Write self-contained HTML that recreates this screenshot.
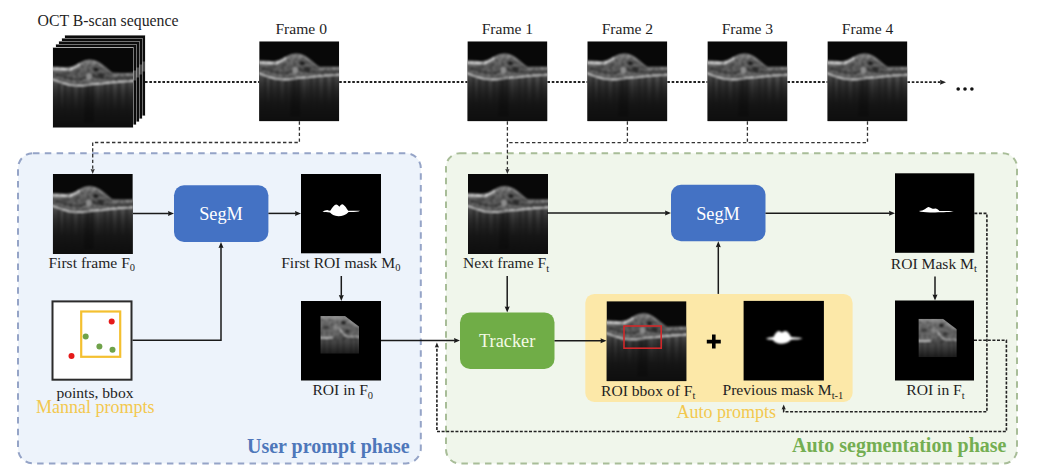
<!DOCTYPE html>
<html><head><meta charset="utf-8">
<style>
html,body{margin:0;padding:0;background:#fff;width:1038px;height:475px;overflow:hidden}
svg{display:block}
text{font-family:"Liberation Serif",serif;fill:#1f1f1f}
</style></head><body>
<svg width="1038" height="475" viewBox="0 0 1038 475">
<defs>
  <linearGradient id="below" x1="0" y1="0" x2="0" y2="1"><stop offset="0.0" stop-color="#585858"/><stop offset="0.1" stop-color="#434343"/><stop offset="0.2" stop-color="#343434"/><stop offset="0.3" stop-color="#292929"/><stop offset="0.4" stop-color="#212121"/><stop offset="0.5" stop-color="#1b1b1b"/><stop offset="0.6" stop-color="#161616"/><stop offset="0.7" stop-color="#131313"/><stop offset="0.8" stop-color="#111111"/><stop offset="0.9" stop-color="#0f0f0f"/><stop offset="1.0" stop-color="#0d0d0d"/></linearGradient>
  <linearGradient id="ret" x1="0" y1="0" x2="0" y2="1">
    <stop offset="0" stop-color="#909090"/><stop offset="0.5" stop-color="#5e5e5e"/><stop offset="1" stop-color="#747474"/>
  </linearGradient>
  <linearGradient id="roibelow" x1="0" y1="0" x2="0" y2="1">
    <stop offset="0" stop-color="#707070"/><stop offset="0.55" stop-color="#585858"/><stop offset="0.75" stop-color="#3a3a3a"/><stop offset="1" stop-color="#161616"/>
  </linearGradient>
  <linearGradient id="roiret" x1="0" y1="0" x2="0" y2="1">
    <stop offset="0" stop-color="#8a8a8a"/><stop offset="0.6" stop-color="#686868"/><stop offset="1" stop-color="#747474"/>
  </linearGradient>
  <linearGradient id="streakD" gradientUnits="userSpaceOnUse" x1="0" y1="36" x2="0" y2="80"><stop offset="0.0" stop-color="#000" stop-opacity="0.300"/><stop offset="0.1" stop-color="#000" stop-opacity="0.256"/><stop offset="0.2" stop-color="#000" stop-opacity="0.215"/><stop offset="0.3" stop-color="#000" stop-opacity="0.176"/><stop offset="0.4" stop-color="#000" stop-opacity="0.139"/><stop offset="0.5" stop-color="#000" stop-opacity="0.106"/><stop offset="0.6" stop-color="#000" stop-opacity="0.076"/><stop offset="0.7" stop-color="#000" stop-opacity="0.049"/><stop offset="0.8" stop-color="#000" stop-opacity="0.027"/><stop offset="0.9" stop-color="#000" stop-opacity="0.009"/><stop offset="1.0" stop-color="#000" stop-opacity="0.000"/></linearGradient>
  <linearGradient id="streakL" gradientUnits="userSpaceOnUse" x1="0" y1="36" x2="0" y2="62">
    <stop offset="0" stop-color="#fff" stop-opacity="0.1"/><stop offset="1" stop-color="#fff" stop-opacity="0"/></linearGradient>
  <filter id="soft" x="-5%" y="-5%" width="110%" height="110%" color-interpolation-filters="sRGB"><feGaussianBlur stdDeviation="0.9"/></filter>
  <filter id="soft2" x="-20%" y="-50%" width="140%" height="200%" color-interpolation-filters="sRGB"><feGaussianBlur stdDeviation="0.45"/></filter>
  <filter id="soft3" x="-20%" y="-50%" width="140%" height="200%" color-interpolation-filters="sRGB"><feGaussianBlur stdDeviation="0.9"/></filter>
  <filter id="speckle" x="0" y="0" width="100%" height="100%" color-interpolation-filters="sRGB">
    <feTurbulence type="fractalNoise" baseFrequency="0.35" numOctaves="2" seed="3" result="n"/>
    <feColorMatrix in="n" type="matrix" values="0 0 0 0 0  0 0 0 0 0  0 0 0 0 0  2.2 0 0 0 -0.9" result="na"/>
    <feComposite in="na" in2="SourceGraphic" operator="in" result="nm"/>
    
  </filter>
  <clipPath id="clip80"><rect x="0" y="0" width="80" height="80"/></clipPath>
  <symbol id="oct" viewBox="0 0 80 80" width="80" height="80">
    <rect width="80" height="80" fill="#080808"/>
    <g clip-path="url(#clip80)" filter="url(#soft)">
      <path d="M-2,31.5 C4,33.5 10,36 16,37.5 C22,38.6 28,38.4 33,38 C38,37 43,36.2 48,36.1 C56,35.4 66,33.8 82,33.4 L82,82 L-2,82 z" fill="url(#below)"/>
      <path d="M6,36 V82 M12,37 V82 M19,38 V82 M27,38.5 V82 M35,37.5 V82 M40,37 V82 M52,36 V82 M58,35 V82 M66,34.5 V82 M74,34 V82" stroke="url(#streakD)" stroke-width="2.2"/>
      <path d="M9,37 V82 M23,38.5 V82 M45,36.5 V82 M62,35 V82 M70,34 V82" stroke="url(#streakL)" stroke-width="1.5"/>
      <path d="M-2,19.6 C4,19.8 10,20.3 14.3,20.5 C18,20 21,19 23.5,17.8 C26,16.5 27,15.5 29,14.7 C32,13.3 35,12.6 38.2,12.8 C41,13 43.5,13.8 45.5,15 C48,16.5 50.5,18.6 52.8,20.5 C55.5,22.8 57.5,25 60,26 C66,26.2 74,26 82,26 L82,33.4 C66,33.8 56,35.4 48,36.1 C43,36.2 38,37 33,38 C28,38.4 22,38.6 16,37.5 C10,36 4,33.5 -2,31.5 z" fill="url(#ret)"/>
      <path d="M-2,19.6 C4,19.8 10,20.3 14.3,20.5 C18,20 21,19 23.5,17.8 C26,16.5 27,15.5 29,14.7 C32,13.3 35,12.6 38.2,12.8 C41,13 43.5,13.8 45.5,15 C48,16.5 50.5,18.6 52.8,20.5 C55.5,22.8 57.5,25 60,26 C66,26.2 74,26 82,26" stroke="#a8a8a8" stroke-width="1.3" fill="none" stroke-opacity="0.7"/>
      <path d="M-2,21.2 C4,21.4 10,21.9 16,22 C20,21.5 23,19.5 27,16.5" stroke="#dcdcdc" stroke-width="2.6" fill="none"/>
      <path d="M-2,31.5 C4,33.5 10,36 16,37.5 C22,38.6 28,38.4 33,38 C38,37 43,36.2 48,36.1 C56,35.4 66,33.8 82,33.4" stroke="#d8d8d8" stroke-width="1.6" fill="none"/>
      <path d="M60,27.5 C66,27.8 74,27.6 82,27.5" stroke="#a8a8a8" stroke-width="1.6" fill="none"/>
      <path d="M2,27 C10,29 18,32 26,32 C34,30 40,27 46,30 C52,32 60,31 82,30.5" stroke="#333" stroke-width="1.8" fill="none" stroke-opacity="0.8"/>
      <path d="M10,24.5 C16,26 22,24 28,20 C34,17 42,17 48,22 C52,25 56,27 82,28.8" stroke="#555" stroke-width="1.2" fill="none" stroke-opacity="0.7"/>
      <path d="M-2,19.6 C4,19.8 10,20.3 14.3,20.5 C18,20 21,19 23.5,17.8 C26,16.5 27,15.5 29,14.7 C32,13.3 35,12.6 38.2,12.8 C41,13 43.5,13.8 45.5,15 C48,16.5 50.5,18.6 52.8,20.5 C55.5,22.8 57.5,25 60,26 C66,26.2 74,26 82,26 L82,33.4 C66,33.8 56,35.4 48,36.1 C43,36.2 38,37 33,38 C28,38.4 22,38.6 16,37.5 C10,36 4,33.5 -2,31.5 z" fill="#000" filter="url(#speckle)" opacity="0.5"/>
      <ellipse cx="43" cy="22" rx="2.5" ry="2" fill="#1a1a1a"/>
      <ellipse cx="48" cy="28" rx="3" ry="2.2" fill="#2a2a2a"/>
      <ellipse cx="36" cy="29" rx="3" ry="3.5" fill="#8c8c8c"/>
      <path d="M31,38 L31,75 L41,75 L40,37 z" fill="#000" fill-opacity="0.22"/>
    </g>
  </symbol>
  <symbol id="roi" viewBox="0 0 40 40" preserveAspectRatio="none">
    <clipPath id="roiclip"><path d="M0,0 H25.5 L40,11 V40 H0 z"/></clipPath>
    <g clip-path="url(#roiclip)" filter="url(#soft)">
      <rect x="-2" y="-2" width="44" height="44" fill="url(#roibelow)"/>
      <path d="M-2,-2 H42 V23 C34,23 30,21 26,18 C22,15 18,22 14,23 C8,24 4,23 -2,23 z" fill="url(#roiret)"/>
      <path d="M-2,23 C4,23.5 8,23.5 13,23" stroke="#d0d0d0" stroke-width="1.8" fill="none"/>
      <path d="M20,14 L26,21 C30,22.5 36,22 42,21.8" stroke="#c8c8c8" stroke-width="1.5" fill="none"/>
      <path d="M-2,1.5 H26 L40,12" stroke="#b0b0b0" stroke-width="1.4" fill="none"/>
      <ellipse cx="24" cy="7" rx="2.4" ry="2" fill="#222"/>
      <ellipse cx="28" cy="16" rx="2.6" ry="1.8" fill="#333"/>
      <ellipse cx="6" cy="12" rx="3" ry="2" fill="#444"/>
      <ellipse cx="17" cy="12" rx="3.5" ry="3.5" fill="#8a8a8a"/>
      <rect x="-2" y="-2" width="44" height="28" fill="#000" filter="url(#speckle)" opacity="0.4"/>
      <path d="M4,24 V40 M10,24 V40 M18,24 V40 M24,22 V40 M32,22 V40 M37,22 V40" stroke="#000" stroke-opacity="0.25" stroke-width="1.6"/>
    </g>
  </symbol>
</defs>
<rect x="18" y="153.2" width="402.8" height="310.2" rx="15" fill="#EDF3FB" stroke="#95A4C7" stroke-width="2" stroke-dasharray="6.5 5.3"/>
<rect x="446" y="153.2" width="571" height="310.4" rx="14" fill="#F0F6EB" stroke="#A8BD98" stroke-width="2" stroke-dasharray="6.5 5.3"/>
<text x="37.5" y="26.2" font-size="15.8">OCT B-scan sequence</text>
<text x="301.2" y="34.4" font-size="15.6" text-anchor="middle">Frame 0</text>
<text x="507.4" y="34.4" font-size="15.6" text-anchor="middle">Frame 1</text>
<text x="627.4" y="34.4" font-size="15.6" text-anchor="middle">Frame 2</text>
<text x="747.4" y="34.4" font-size="15.6" text-anchor="middle">Frame 3</text>
<text x="867.6" y="34.4" font-size="15.6" text-anchor="middle">Frame 4</text>
<rect x="64.5" y="35.0" width="81" height="81" fill="#d8d8d8"/>
<rect x="65" y="35.5" width="80" height="80" fill="#0c0c0c"/>
<rect x="142" y="61.5" width="3" height="10" fill="#777" opacity="0.6"/>
<rect x="61.5" y="38.0" width="81" height="81" fill="#d8d8d8"/>
<rect x="62" y="38.5" width="80" height="80" fill="#0c0c0c"/>
<rect x="139" y="64.5" width="3" height="10" fill="#777" opacity="0.6"/>
<rect x="58.5" y="41.0" width="81" height="81" fill="#d8d8d8"/>
<rect x="59" y="41.5" width="80" height="80" fill="#0c0c0c"/>
<rect x="136" y="67.5" width="3" height="10" fill="#777" opacity="0.6"/>
<rect x="55.5" y="44.0" width="81" height="81" fill="#d8d8d8"/>
<rect x="56" y="44.5" width="80" height="80" fill="#0c0c0c"/>
<rect x="133" y="70.5" width="3" height="10" fill="#777" opacity="0.6"/>
<rect x="52.5" y="47" width="81" height="81" fill="#e0e0e0"/>
<use href="#oct" x="53" y="47.5"/>
<use href="#oct" x="259.2" y="41.3"/>
<use href="#oct" x="467.4" y="41.3"/>
<use href="#oct" x="587.3" y="41.3"/>
<use href="#oct" x="707.4" y="41.3"/>
<use href="#oct" x="827.4" y="41.3"/>
<path d="M145,82 H259.2" stroke="#222" stroke-width="1.8" stroke-dasharray="2.6 1.75" fill="none"/>
<path d="M339.2,82 H467.4" stroke="#222" stroke-width="1.8" stroke-dasharray="2.6 1.75" fill="none"/>
<path d="M547.4,82 H587.3" stroke="#222" stroke-width="1.8" stroke-dasharray="2.6 1.75" fill="none"/>
<path d="M667.3,82 H707.4" stroke="#222" stroke-width="1.8" stroke-dasharray="2.6 1.75" fill="none"/>
<path d="M787.4,82 H827.4" stroke="#222" stroke-width="1.8" stroke-dasharray="2.6 1.75" fill="none"/>
<path d="M907.40,82.20 L940.90,82.20" stroke="#222" stroke-width="1.8" fill="none" stroke-dasharray="2.6 1.75"/>
<path d="M946.00,82.20 L940.00,84.70 L940.48,82.20 L940.00,79.70 z" fill="#222"/>
<circle cx="958.2" cy="89" r="1.8" fill="#111"/>
<circle cx="965" cy="89" r="1.8" fill="#111"/>
<circle cx="971.9" cy="89" r="1.8" fill="#111"/>
<path d="M299.40,121.30 L299.40,142.50 L92.70,142.50 L92.70,169.75" stroke="#333" stroke-width="1.3" fill="none" stroke-dasharray="3.4 2.3"/>
<path d="M92.70,174.00 L90.60,169.00 L92.70,169.40 L94.80,169.00 z" fill="#333"/>
<path d="M507.40,121.30 L507.40,169.75" stroke="#333" stroke-width="1.3" fill="none" stroke-dasharray="3.4 2.3"/>
<path d="M507.40,174.00 L505.30,169.00 L507.40,169.40 L509.50,169.00 z" fill="#333"/>
<path d="M627.4,121.3 V142.6 M747.4,121.3 V142.6 M867.5,121.3 V142.6 H507.4" stroke="#333" stroke-width="1.3" stroke-dasharray="3.4 2.3" fill="none"/>
<use href="#oct" x="52.8" y="174"/>
<text x="48.4" y="267.6" font-size="15.6">First frame F<tspan font-size="10.5" dy="3.8">0</tspan></text>
<path d="M133.00,213.40 L168.90,213.40" stroke="#1a1a1a" stroke-width="1.5" fill="none"/>
<path d="M174.00,213.40 L168.00,215.90 L168.48,213.40 L168.00,210.90 z" fill="#1a1a1a"/>
<rect x="174" y="185.2" width="94.4" height="56.8" rx="10" fill="#4472C4"/>
<text x="221" y="219.8" font-size="18.3" text-anchor="middle" style="fill:#fff">SegM</text>
<path d="M268.40,213.40 L295.90,213.40" stroke="#1a1a1a" stroke-width="1.5" fill="none"/>
<path d="M301.00,213.40 L295.00,215.90 L295.48,213.40 L295.00,210.90 z" fill="#1a1a1a"/>
<rect x="301" y="174" width="80" height="79.3" fill="#000"/>
<path filter="url(#soft2)" d="M322.5,211.4 C324,211 326,210 327.2,210 C328.5,210.5 329.5,210.8 330.5,210.6 C332,208 334,205 336,204.6 C337.5,204.7 338.5,206 339.4,206.7 C340.3,205.5 341.3,204.2 342.3,204.2 C344,204.5 346.5,208 348.2,210.8 C352,211 356,210.4 360,210.8 C358,212.2 352,212 348.6,212 C346,215 342,216.2 338.5,216.2 C334,216 331.5,214 330,212.4 C327,212.2 324.5,212 322.5,211.4 z" fill="#fff"/>
<text x="281.2" y="267.6" font-size="15.6">First ROI mask M<tspan font-size="10.5" dy="3.8">0</tspan></text>
<path d="M341.30,276.00 L341.30,295.90" stroke="#1a1a1a" stroke-width="1.5" fill="none"/>
<path d="M341.30,301.00 L338.80,295.00 L341.30,295.48 L343.80,295.00 z" fill="#1a1a1a"/>
<rect x="301" y="301" width="80" height="79.5" fill="#000"/>
<use href="#roi" x="320.3" y="316.1" width="38.7" height="37.7"/>
<text x="312.4" y="395.2" font-size="15.6">ROI in F<tspan font-size="10.5" dy="3.8">0</tspan></text>
<rect x="52.5" y="301.4" width="79" height="78.3" fill="#fff" stroke="#2b2b2b" stroke-width="2"/>
<rect x="81.2" y="311.5" width="39" height="45.3" fill="none" stroke="#F4C030" stroke-width="2.2"/>
<circle cx="111.7" cy="321.5" r="3" fill="#E51A1A"/>
<circle cx="71.5" cy="356" r="3" fill="#E51A1A"/>
<circle cx="85.7" cy="336.5" r="3" fill="#6FA24A"/>
<circle cx="99.4" cy="346.6" r="3" fill="#6FA24A"/>
<circle cx="112.5" cy="349.7" r="3" fill="#6FA24A"/>
<path d="M132.50,340.20 L221.00,340.20 L221.00,247.10" stroke="#1a1a1a" stroke-width="1.5" fill="none"/>
<path d="M221.00,242.00 L223.50,248.00 L221.00,247.52 L218.50,248.00 z" fill="#1a1a1a"/>
<text x="56.4" y="397.5" font-size="15.6">points, bbox</text>
<text x="36" y="413.2" font-size="18" style="fill:#F3C84E">Mannal prompts</text>
<text x="247" y="452.8" font-size="20" font-weight="bold" style="fill:#4E77BA">User prompt phase</text>
<path d="M381.00,340.60 L454.90,340.60" stroke="#1a1a1a" stroke-width="1.5" fill="none"/>
<path d="M460.00,340.60 L454.00,343.10 L454.48,340.60 L454.00,338.10 z" fill="#1a1a1a"/>
<use href="#oct" x="468" y="174"/>
<text x="463" y="268" font-size="15.6">Next frame F<tspan font-size="10.5" dy="3.8">t</tspan></text>
<path d="M547.00,213.00 L665.90,213.00" stroke="#1a1a1a" stroke-width="1.5" fill="none"/>
<path d="M671.00,213.00 L665.00,215.50 L665.48,213.00 L665.00,210.50 z" fill="#1a1a1a"/>
<rect x="671" y="184.8" width="94.5" height="56.5" rx="10" fill="#4472C4"/>
<text x="718" y="219.6" font-size="18.3" text-anchor="middle" style="fill:#fff">SegM</text>
<path d="M765.50,213.20 L889.90,213.20" stroke="#1a1a1a" stroke-width="1.5" fill="none"/>
<path d="M895.00,213.20 L889.00,215.70 L889.48,213.20 L889.00,210.70 z" fill="#1a1a1a"/>
<rect x="895" y="173.3" width="79.3" height="79.5" fill="#000"/>
<path filter="url(#soft2)" d="M918.9,211.1 C921,210.8 923.5,210.2 925.2,209 C926.5,208 927.5,207 928.6,206.9 C930,207.2 931,207.8 932,208.4 C933,209 934,208.8 935,208.5 C936.5,208.2 938,209.5 939.5,211 C944,211 949,210.7 953.9,211.1 C950,212.4 940,212.5 930,212.4 C925,212.3 921,212.2 918.9,211.1 z" fill="#fff"/>
<text x="890.8" y="268.5" font-size="15.6">ROI Mask M<tspan font-size="10.5" dy="3.8">t</tspan></text>
<path d="M507.20,276.00 L507.20,307.30" stroke="#1a1a1a" stroke-width="1.5" fill="none"/>
<path d="M507.20,312.40 L504.70,306.40 L507.20,306.88 L509.70,306.40 z" fill="#1a1a1a"/>
<rect x="460" y="312.4" width="94.5" height="56.6" rx="10" fill="#70AD47"/>
<text x="507.2" y="347" font-size="18.3" text-anchor="middle" style="fill:#F4FAE6">Tracker</text>
<rect x="585.3" y="293.9" width="267.3" height="108.1" rx="9" fill="#FCE8A8"/>
<use href="#oct" x="606.5" y="301.2"/>
<path d="M554.50,340.70 L601.40,340.70" stroke="#1a1a1a" stroke-width="1.5" fill="none"/>
<path d="M606.50,340.70 L600.50,343.20 L600.98,340.70 L600.50,338.20 z" fill="#1a1a1a"/>
<rect x="624" y="326" width="37.2" height="22.2" fill="none" stroke="#D0282A" stroke-width="1.6"/>
<path d="M706.8,341.6 H720.8 M713.8,334.6 V348.6" stroke="#000" stroke-width="3.6"/>
<rect x="743.6" y="300.9" width="80.3" height="79.6" fill="#000"/>
<path filter="url(#soft3)" d="M766,338.5 C768,337.5 771,337.5 773.5,337 C775,334 776.5,331.5 778.6,331 C780.2,331 781,332.5 782,332.6 C783,332 784,331 785.3,331 C787.5,331 789.5,334 791.2,337 C794,337.5 799,337.3 802.6,338.3 C800,339.6 796,339.6 791,339.8 C789,342.5 785,343.8 781,343.8 C777,343.6 774,342 773,340 C770,339.8 767.5,339.5 766,338.5 z" fill="#fff"/>
<path d="M718.30,293.90 L718.30,246.40" stroke="#1a1a1a" stroke-width="1.5" fill="none"/>
<path d="M718.30,241.30 L720.80,247.30 L718.30,246.82 L715.80,247.30 z" fill="#1a1a1a"/>
<text x="601" y="395.6" font-size="15.6">ROI bbox of F<tspan font-size="10.5" dy="3.8">t</tspan></text>
<text x="722.5" y="395.4" font-size="15.6">Previous mask M<tspan font-size="10.5" dy="3.8">t-1</tspan></text>
<text x="676.5" y="418.2" font-size="18" style="fill:#F3C84E">Auto prompts</text>
<path d="M935.00,276.40 L935.00,295.40" stroke="#1a1a1a" stroke-width="1.5" fill="none"/>
<path d="M935.00,300.50 L932.50,294.50 L935.00,294.98 L937.50,294.50 z" fill="#1a1a1a"/>
<rect x="895" y="300.5" width="79" height="80" fill="#000"/>
<use href="#roi" x="918.4" y="318.7" width="38.4" height="38.5"/>
<text x="906.3" y="395.3" font-size="15.6">ROI in F<tspan font-size="10.5" dy="3.8">t</tspan></text>
<path d="M974.30,213.40 L986.90,213.40 L986.90,411.80 L783.70,411.80 L783.70,408.75" stroke="#222" stroke-width="1.6" fill="none" stroke-dasharray="3 1.6"/>
<path d="M783.70,404.50 L785.80,409.50 L783.70,409.10 L781.60,409.50 z" fill="#222"/>
<path d="M974.00,340.30 L1006.40,340.30 L1006.40,431.50 L436.90,431.50 L436.90,346.65" stroke="#222" stroke-width="1.6" fill="none" stroke-dasharray="3 1.6"/>
<path d="M436.90,342.40 L439.00,347.40 L436.90,347.00 L434.80,347.40 z" fill="#222"/>
<text x="792" y="452.3" font-size="20" font-weight="bold" style="fill:#74AE52">Auto segmentation phase</text>
</svg>
</body></html>
